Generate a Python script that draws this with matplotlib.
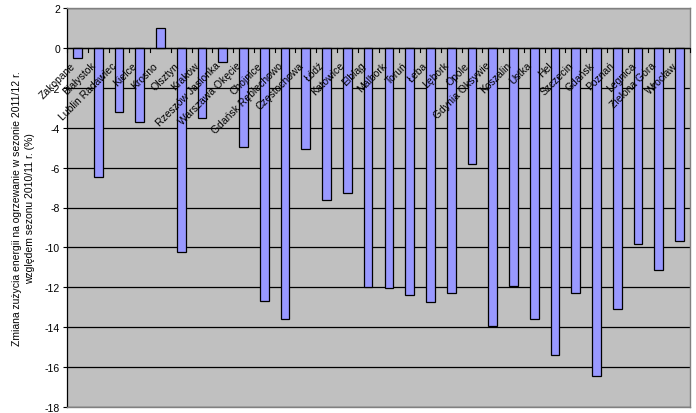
import matplotlib
matplotlib.use("Agg")
import matplotlib.pyplot as plt
import numpy as np

plt.rcParams['font.family'] = ['Liberation Sans', 'DejaVu Sans']
plt.rcParams['axes.unicode_minus'] = False

stations = ["Zakopane", "Białystok", "Lublin Radawiec", "Kielce", "Krosno", "Olsztyn",
            "Kraków", "Rzeszów Jasionka", "Warszawa Okęcie", "Chojnice",
            "Gdańsk Rębiechowo", "Częstochowa", "Łódź", "Katowice", "Elbląg",
            "Malbork", "Toruń", "Łeba", "Lębork", "Opole", "Gdynia Oksywie",
            "Koszalin", "Ustka", "Hel", "Szczecin", "Gdańsk", "Poznań", "Legnica",
            "Zielona Góra", "Wrocław"]
values = [-0.5, -6.45, -3.2, -3.7, 1.0, -10.25, -3.5, -0.7, -4.95, -12.7,
          -13.6, -5.05, -7.6, -7.25, -12.0, -12.05, -12.4, -12.75, -12.3, -5.8,
          -13.95, -11.95, -13.6, -15.4, -12.3, -16.45, -13.1, -9.85, -11.15, -9.7]
yticks = [2, 0, -2, -4, -6, -8, -10, -12, -14, -16, -18]

fig = plt.figure(figsize=(6.96, 4.14), dpi=100)
ax = fig.add_axes([67/696, 1-408/414, (690-67)/696, (408-9)/414])
ax.set_facecolor('#C0C0C0')

x = np.arange(len(values))
ax.bar(x, values, width=0.42, color='#9999FF', edgecolor='black', linewidth=0.9, zorder=3)

ax.set_xlim(-0.5, len(values) - 0.5)
ax.set_ylim(-18, 2)
ax.set_yticks(yticks)
ax.set_yticklabels([str(v) for v in yticks], fontsize=7.5)
ax.yaxis.grid(True, color='black', linewidth=0.9, zorder=1)
ax.set_axisbelow(True)
ax.tick_params(axis='y', direction='out', length=3, width=0.8, pad=2)

ax.set_xticks([])
# x axis line at zero with ticks at category boundaries
ax.axhline(0, color='black', linewidth=0.9, zorder=4)
for b in np.arange(-0.5, len(values) + 0.5, 1.0):
    ax.plot([b, b], [0, -0.2], color='black', linewidth=0.8, zorder=4, clip_on=False)

for xi, name in zip(x, stations):
    ax.text(xi - 0.2, -0.78, name, rotation=45, ha='right', va='center',
            rotation_mode='anchor', fontsize=7.5, zorder=5)

for side in ['top', 'right', 'bottom']:
    ax.spines[side].set_color('#808080')
    ax.spines[side].set_linewidth(1.0)
ax.spines['left'].set_color('black')
ax.spines['left'].set_linewidth(0.9)

ax.set_ylabel("Zmiana zużycia energii na ogrzewanie w sezonie 2011/12 r.\nwzględem sezonu 2010/11 r. (%)",
              fontsize=7.5, labelpad=7, linespacing=1.4)

fig.savefig("out.png", dpi=100, facecolor='white')
